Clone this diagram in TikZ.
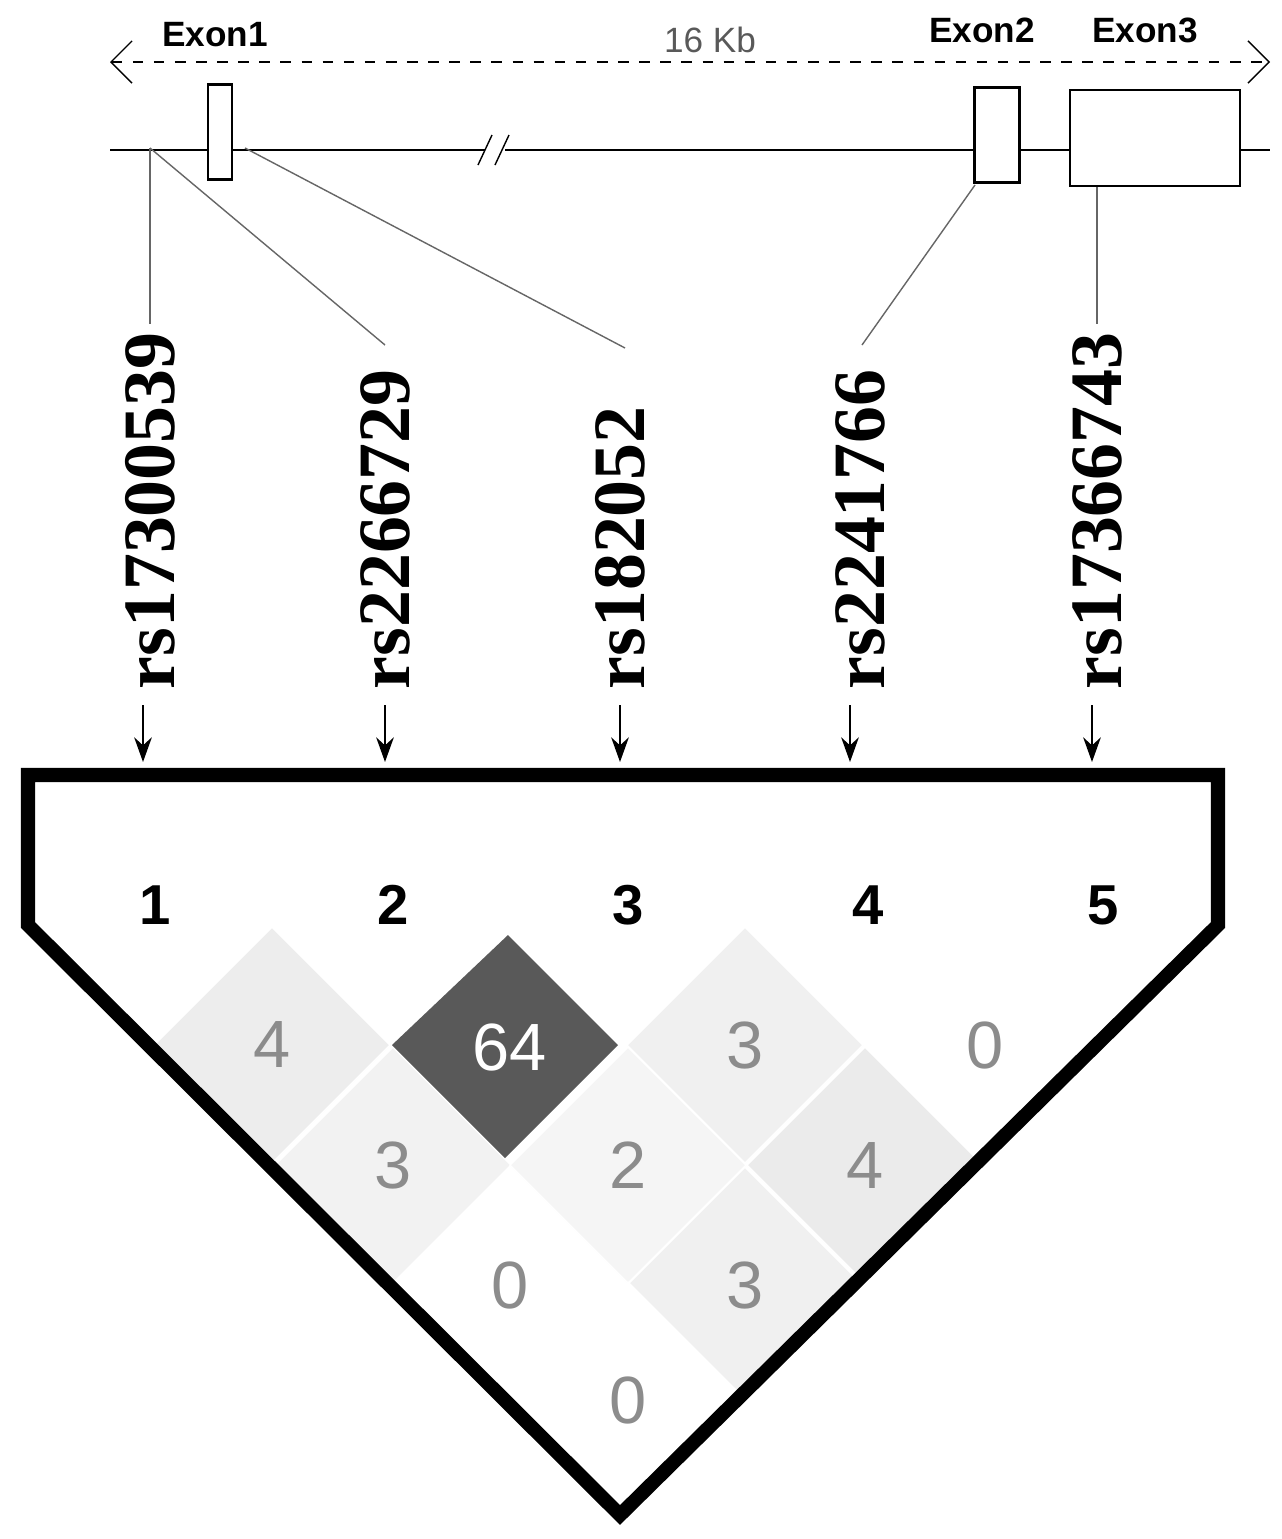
\documentclass[tikz,border=0pt]{standalone}
\usepackage{fontspec}
\setmainfont{Liberation Serif}
\newfontfamily\sansf{Liberation Sans}
\usetikzlibrary{arrows.meta}
\tikzset{
  exon/.style={draw,thick,fill=white},
  exlab/.style={font=\sansf\bfseries\fontsize{10}{12}\selectfont},
  snp/.style={rotate=90,anchor=west,inner sep=0pt,font=\bfseries\fontsize{21}{24}\selectfont},
  idx/.style={font=\sansf\bfseries\fontsize{16}{18}\selectfont},
  cell/.style={font=\sansf\fontsize{19}{22}\selectfont,text=gray!90},
  conn/.style={gray!80!black,thin},
}
\begin{document}
\begin{tikzpicture}[x=0.01cm,y=-0.01cm]
  \useasboundingbox (0,0) rectangle (1282,1539);
  % scale bar
  \draw[dashed,{Straight Barb[length=6pt]}-{Straight Barb[length=6pt]}] (110,62) -- (1270,62);
  \node[font=\sansf\fontsize{10}{12}\selectfont,text=gray!70!black] (kb) at (710,40) {16 Kb};
  \node[exlab] (l1) at (215,35) {Exon1};
  \node[exlab] (l2) at (982,30) {Exon2};
  \node[exlab] (l3) at (1145,30) {Exon3};
  % gene
  \draw (110,150) -- (1270,150);
  \fill[white] (485,140) rectangle (505,160);
  \draw (478,165) -- (492,135) (495,165) -- (509,135);
  \node[exon,minimum width=0.24cm,minimum height=0.95cm,inner sep=0pt] (e1) at (220,132) {};
  \node[exon,minimum width=0.45cm,minimum height=0.95cm,inner sep=0pt] (e2) at (997,135) {};
  \node[exon,minimum width=1.7cm,minimum height=0.96cm,inner sep=0pt] (e3) at (1155,138) {};
  \coordinate (g1) at (150,148);
  \coordinate (g3) at (245,148);
  \coordinate (g4) at (975,185);
  \coordinate (g5) at (1097,187);
  % snp labels
  \node[snp] (s1) at (150,690) {rs17300539};
  \node[snp] (s2) at (385,690) {rs2266729};
  \node[snp] (s3) at (620,690) {rs182052};
  \node[snp] (s4) at (860,690) {rs2241766};
  \node[snp] (s5) at (1097,690) {rs17366743};
  \coordinate (t1) at (150,324);
  \coordinate (t2) at (385,345);
  \coordinate (t3) at (625,348);
  \coordinate (t4) at (862,345);
  \coordinate (t5) at (1097,324);
  \draw[conn] (g1) -- (t1);
  \draw[conn] (g1) -- (t2);
  \draw[conn] (g3) -- (t3);
  \draw[conn] (g4) -- (t4);
  \draw[conn] (g5) -- (t5);
  \foreach \s/\x in {s1/143,s2/385,s3/620,s4/850,s5/1092}
    \draw[-{Stealth[length=7pt,width=5pt]},thick] (\x,705) -- (\x,762);
  % LD block
  \begin{scope}
    \clip (28,775) -- (1218,775) -- (1218,925) -- (620,1515) -- (28,925) -- cycle;
    \foreach \cx/\cy/\v/\c in {272/1045/4/black!7,745/1045/3/black!6,985/1045/0/white,
        393/1165/3/black!5,628/1165/2/black!4,865/1165/4/black!8,
        510/1285/0/white,745/1285/3/black!6,628/1400/0/white}{
      \fill[\c,draw=white] (\cx-118,\cy) -- (\cx,\cy-118) -- (\cx+118,\cy) -- (\cx,\cy+118) -- cycle;
      \node[cell] (c\cx\cy) at (\cx,\cy) {\v};
    }
    \fill[black!65] (392,1045) -- (508,935) -- (618,1045) -- (505,1158) -- cycle;
    \node[cell,text=white] (c64) at (510,1047) {64};
  \end{scope}
  \draw[line width=4pt,line join=miter] (28,775) -- (1218,775) -- (1218,925) -- (620,1515) -- (28,925) -- cycle;
  \foreach \i/\x in {1/155,2/393,3/628,4/868,5/1103}
    \node[idx] (n\i) at (\x,905) {\i};
\end{tikzpicture}
\end{document}
